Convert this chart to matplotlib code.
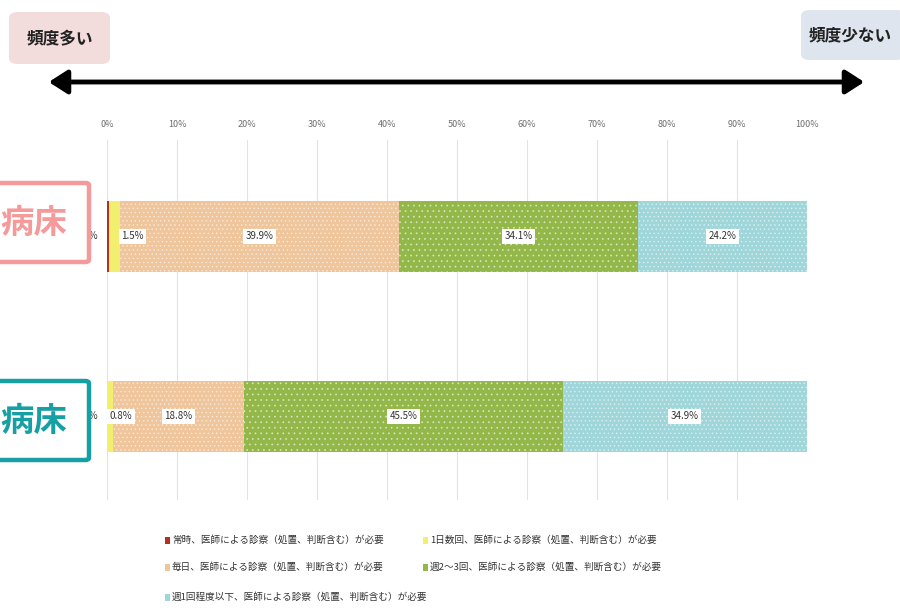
import matplotlib
matplotlib.use("Agg")
import matplotlib.pyplot as plt
from matplotlib.patches import FancyBboxPatch, FancyArrowPatch
import numpy as np

plt.rcParams['font.family'] = ['Noto Sans CJK JP', 'DejaVu Sans']
plt.rcParams['hatch.linewidth'] = 0.6

# ---- data ----
rows = ["病床A", "病床B"]
row_labels = ["病床", "病床"]
series_names = [
    "常時、医師による診察（処置、判断含む）が必要",
    "1日数回、医師による診察（処置、判断含む）が必要",
    "毎日、医師による診察（処置、判断含む）が必要",
    "週2～3回、医師による診察（処置、判断含む）が必要",
    "週1回程度以下、医師による診察（処置、判断含む）が必要",
]
s_constant = [0.3, 0.0]
s_several_daily = [1.5, 0.8]
s_daily = [39.9, 18.8]
s_weekly_2_3 = [34.1, 45.5]
s_weekly_1 = [24.2, 34.9]
x_ticks = [0, 10, 20, 30, 40, 50, 60, 70, 80, 90, 100]
x_tick_labels = [f"{t}%" for t in x_ticks]

series = [s_constant, s_several_daily, s_daily, s_weekly_2_3, s_weekly_1]
colors = ["#B5301F", "#F2EE6E", "#EFC59C", "#93B748", "#9FD6DA"]
hatches = [None, None, "....", "...", "...."]

W, H = 900, 612
fig = plt.figure(figsize=(9, 6.12), dpi=100)

def fx(px):
    return px / W

def fy(py):
    return 1 - py / H

ax = fig.add_axes([fx(107), fy(500), fx(807) - fx(107), fy(140) - fy(500)])
ax.set_xlim(0, 100)
ax.set_ylim(0, 1)
ypos = [0.732, 0.233]
bh = 0.197

left = np.zeros(len(rows))
for vals, col, hat in zip(series, colors, hatches):
    vals = np.array(vals)
    ax.barh(ypos, vals, left=left, height=bh, color=col, edgecolor="none", zorder=2)
    if hat:
        ax.barh(ypos, vals, left=left, height=bh, color="none", edgecolor=(1, 1, 1, 0.5),
                hatch=hat, linewidth=0, zorder=3)
    left = left + vals

# data labels
lab_box = dict(boxstyle="square,pad=0.25", fc="white", ec="none")
left = np.zeros(len(rows))
for si, vals in enumerate(series):
    for ri, v in enumerate(vals):
        if si == 0:
            x = -1.3
            ha = "right"
        elif si == 1:
            x = left[ri] + v + 1.8 - (0.0 if ri == 0 else 0.6)
            ha = "center"
        else:
            x = left[ri] + v / 2
            ha = "center"
        ax.text(x, ypos[ri], f"{v:.1f}%", ha=ha, va="center", fontsize=7,
                color="#333333", bbox=lab_box, zorder=4)
    left = left + np.array(vals)

ax.set_xticks(x_ticks)
ax.set_xticklabels(x_tick_labels, fontsize=6.5, color="#6E6E6E")
ax.xaxis.tick_top()
ax.tick_params(axis="x", length=0, pad=8)
ax.set_yticks([])
for sp in ax.spines.values():
    sp.set_visible(False)
ax.grid(axis="x", color="#E2E2E2", linewidth=0.8, zorder=0)
ax.set_axisbelow(True)

# row label boxes (partially cut off at left edge)
box_specs = [(183, 262, "#F59A9A"), (381, 460, "#17A0A3")]
for (y0, y1, c), txt in zip(box_specs, row_labels):
    p = FancyBboxPatch((fx(-40), fy(y1)), fx(129), fy(y0) - fy(y1),
                       boxstyle="round,pad=0,rounding_size=0.004",
                       transform=fig.transFigure, fc="white", ec=c, lw=3.2, zorder=10)
    fig.patches.append(p)
    fig.text(fx(67), fy((y0 + y1) / 2 + 1), txt, ha="right", va="center",
             fontsize=24, fontweight="bold", color=c, zorder=11)

# top frequency boxes
for (x0, x1, y0, y1, fc, txt) in [(9, 110, 12, 64, "#F3DCDC", "頻度多い"),
                                  (801, 905, 10, 60, "#DEE5EF", "頻度少ない")]:
    p = FancyBboxPatch((fx(x0), fy(y1)), fx(x1 - x0), fy(y0) - fy(y1),
                       boxstyle="round,pad=0,rounding_size=0.01",
                       transform=fig.transFigure, fc=fc, ec="none", zorder=1)
    fig.patches.append(p)
    fig.text(fx((x0 + min(x1, 900)) / 2), fy((y0 + y1) / 2), txt, ha="center", va="center",
             fontsize=12, fontweight="bold", color="#222222", zorder=2)

arr = FancyArrowPatch((fx(46), fy(82)), (fx(867), fy(82)), transform=fig.transFigure,
                      arrowstyle="<|-|>,head_length=7,head_width=4.5", lw=3.5,
                      color="black", mutation_scale=1.6)
fig.patches.append(arr)

# legend
leg_pos = [(170, 540), (428, 540), (170, 567), (428, 567), (170, 597)]
for (lx, ly), name, col in zip(leg_pos, series_names, colors):
    fig.patches.append(plt.Rectangle((fx(lx - 5), fy(ly + 3.5)), fx(5), fy(ly - 3.5) - fy(ly + 3.5),
                                     transform=fig.transFigure, fc=col, ec="none"))
    fig.text(fx(lx + 2), fy(ly), name, ha="left", va="center", fontsize=6.9, color="#333333")

fig.savefig("out.png", dpi=100)
